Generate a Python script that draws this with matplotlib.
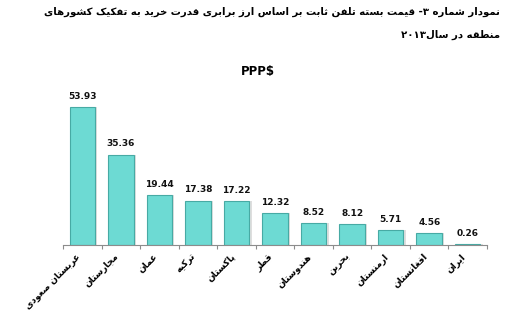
import matplotlib
matplotlib.use("Agg")
import matplotlib.pyplot as plt
import matplotlib.transforms as mtransforms
import numpy as np

# ---- data ----
categories = ["عربستان صعودی", "مجارستان", "عمان", "ترکیه", "پاکستان", "قطر",
              "هندوستان", "بحرین", "ارمنستان", "افغانستان", "ایران"]
values = [53.93, 35.36, 19.44, 17.38, 17.22, 12.32, 8.52, 8.12, 5.71, 4.56, 0.26]
title_lines = ["نمودار شماره ۳- قیمت بسته تلفن ثابت بر اساس ارز برابری قدرت خرید به تفکیک کشورهای",
               "منطقه در سال۲۰۱۳"]
unit_label = "PPP$"

# ---- minimal Arabic/Persian shaping (matplotlib has no shaping engine) ----
FORMS = {  # isolated, final, initial, medial
    'ا': (0xFE8D, 0xFE8E, None, None), 'آ': (0xFE81, 0xFE82, None, None),
    'ب': (0xFE8F, 0xFE90, 0xFE91, 0xFE92), 'پ': (0xFB56, 0xFB57, 0xFB58, 0xFB59),
    'ت': (0xFE95, 0xFE96, 0xFE97, 0xFE98), 'ث': (0xFE99, 0xFE9A, 0xFE9B, 0xFE9C),
    'ج': (0xFE9D, 0xFE9E, 0xFE9F, 0xFEA0), 'چ': (0xFB7A, 0xFB7B, 0xFB7C, 0xFB7D),
    'ح': (0xFEA1, 0xFEA2, 0xFEA3, 0xFEA4), 'خ': (0xFEA5, 0xFEA6, 0xFEA7, 0xFEA8),
    'د': (0xFEA9, 0xFEAA, None, None), 'ذ': (0xFEAB, 0xFEAC, None, None),
    'ر': (0xFEAD, 0xFEAE, None, None), 'ز': (0xFEAF, 0xFEB0, None, None),
    'ژ': (0xFB8A, 0xFB8B, None, None),
    'س': (0xFEB1, 0xFEB2, 0xFEB3, 0xFEB4), 'ش': (0xFEB5, 0xFEB6, 0xFEB7, 0xFEB8),
    'ص': (0xFEB9, 0xFEBA, 0xFEBB, 0xFEBC), 'ض': (0xFEBD, 0xFEBE, 0xFEBF, 0xFEC0),
    'ط': (0xFEC1, 0xFEC2, 0xFEC3, 0xFEC4), 'ظ': (0xFEC5, 0xFEC6, 0xFEC7, 0xFEC8),
    'ع': (0xFEC9, 0xFECA, 0xFECB, 0xFECC), 'غ': (0xFECD, 0xFECE, 0xFECF, 0xFED0),
    'ف': (0xFED1, 0xFED2, 0xFED3, 0xFED4), 'ق': (0xFED5, 0xFED6, 0xFED7, 0xFED8),
    'ک': (0xFB8E, 0xFB8F, 0xFB90, 0xFB91), 'گ': (0xFB92, 0xFB93, 0xFB94, 0xFB95),
    'ل': (0xFEDD, 0xFEDE, 0xFEDF, 0xFEE0), 'م': (0xFEE1, 0xFEE2, 0xFEE3, 0xFEE4),
    'ن': (0xFEE5, 0xFEE6, 0xFEE7, 0xFEE8), 'و': (0xFEED, 0xFEEE, None, None),
    'ه': (0xFEE9, 0xFEEA, 0xFEEB, 0xFEEC), 'ی': (0xFBFC, 0xFBFD, 0xFBFE, 0xFBFF),
}


def dual(c):
    return c in FORMS and FORMS[c][2] is not None


def shape(s):
    out = []
    for i, c in enumerate(s):
        if c not in FORMS:
            out.append(c)
            continue
        prev = s[i - 1] if i > 0 else ''
        nxt = s[i + 1] if i + 1 < len(s) else ''
        jp = dual(prev)
        jn = dual(c) and nxt in FORMS
        f = FORMS[c]
        if jp and jn:
            cp = f[3]
        elif jp:
            cp = f[1]
        elif jn:
            cp = f[2]
        else:
            cp = f[0]
        out.append(chr(cp))
    vis = ''.join(out)[::-1]
    # keep digit runs left-to-right
    res, run = [], []
    for ch in vis:
        if ch.isdigit() or ch == '.':
            run.append(ch)
        else:
            if run:
                res.extend(run[::-1]); run = []
            res.append(ch)
    if run:
        res.extend(run[::-1])
    return ''.join(res)


# ---- figure ----
fig = plt.figure(figsize=(5.09, 3.14), dpi=100)
fig.patch.set_facecolor('white')
ax = fig.add_axes([0.1238, 0.2197, 0.833, 0.4889])

x = np.arange(len(categories))
# soft shadow
ax.bar(x + 0.06, values, width=0.66, color='#c8c8c8', alpha=0.6, zorder=1)
ax.bar(x, values, width=0.66, color='#6ddad3', edgecolor='#47aaa4', linewidth=0.8, zorder=2)

for xi, v in zip(x, values):
    ax.text(xi, v + 2.5, f"{v:.2f}", ha='center', va='bottom', fontsize=6.5,
            fontweight='bold', family='DejaVu Sans', color='#111111')

ax.set_xlim(-0.5, len(categories) - 0.5)
ax.set_ylim(0, 60)
ax.set_yticks([])
for s in ['left', 'right', 'top']:
    ax.spines[s].set_visible(False)
ax.spines['bottom'].set_color('#8c8c8c')
ax.spines['bottom'].set_linewidth(0.8)

ax.set_xticks(x)
labels = ax.set_xticklabels([shape(c) for c in categories], rotation=45, ha='right',
                            va='top', fontsize=6.5, fontweight='bold', family='DejaVu Sans')
offset = mtransforms.ScaledTranslation(5 / 100, 0, fig.dpi_scale_trans)
for lab in ax.get_xticklabels():
    lab.set_transform(lab.get_transform() + offset)
ax.tick_params(axis='x', which='major', length=0, pad=5)
ax.set_xticks(np.arange(-0.5, len(categories)), minor=True)
ax.tick_params(axis='x', which='minor', length=3, color='#8c8c8c', width=0.8)

fig.text(258 / 509, 1 - 72 / 314, unit_label, ha='center', va='center', fontsize=8.5,
         fontweight='bold', family='DejaVu Sans')

t1 = fig.text(500 / 509, 1 - 12 / 314, shape(title_lines[0]), ha='right', va='center',
              fontsize=8.5, fontweight='bold', family='DejaVu Sans')
t2 = fig.text(500 / 509, 1 - 35 / 314, shape(title_lines[1]), ha='right', va='center',
              fontsize=8.5, fontweight='bold', family='DejaVu Sans')
# fit the first title line to the reference width (~455 px)
renderer = fig.canvas.get_renderer()
w = t1.get_window_extent(renderer).width
fs = 8.5 * 455 / w
t1.set_fontsize(fs)
t2.set_fontsize(fs)

fig.savefig('out.png', dpi=100)
